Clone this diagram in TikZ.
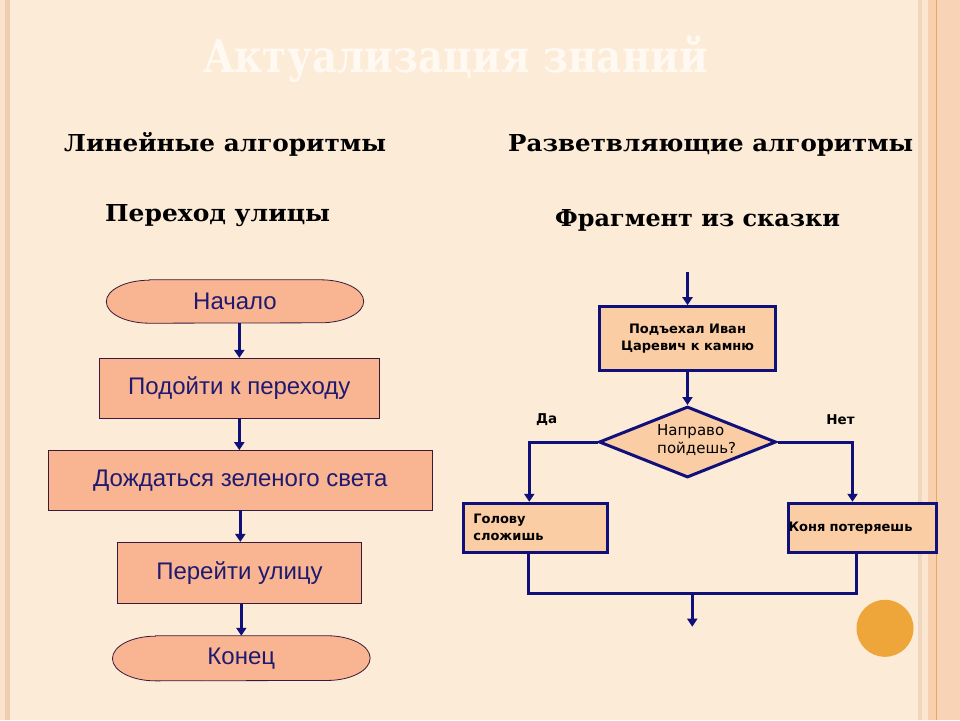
\documentclass[tikz,border=0pt]{standalone}
\usepackage{fontspec}
\setmainfont{Liberation Sans}
\newfontfamily\hfont{DejaVu Serif}
\newfontfamily\dvs{DejaVu Sans}
\usetikzlibrary{arrows.meta,shapes.geometric,backgrounds}
\definecolor{bgc}{HTML}{FCEBD7}
\definecolor{salmon}{HTML}{F9B591}
\definecolor{peach}{HTML}{FBCDA4}
\definecolor{navy}{HTML}{10107A}
\definecolor{ltext}{HTML}{1F1A70}
\definecolor{lborder}{HTML}{3A1A3A}
\definecolor{orangec}{HTML}{EEA53A}
\definecolor{titlec}{HTML}{FFF9F2}
\definecolor{stripeA}{HTML}{FAE2CB}
\definecolor{stripeB}{HTML}{F0CDB0}
\definecolor{stripeC}{HTML}{EED6BF}
\definecolor{stripeD}{HTML}{FCE6CF}
\definecolor{stripeE}{HTML}{F8D0B0}
\definecolor{stripeF}{HTML}{E9A765}
\definecolor{stripeG}{HTML}{F9D3B5}
\newcommand\headtxt[3]{\resizebox{#1}{\height}{\hfont\bfseries\fontsize{#2}{#2}\selectfont #3}}
\tikzset{
  lbox/.style={draw=lborder, line width=0.8pt, fill=salmon, text=ltext,
    font=\fontsize{24}{28}\selectfont, inner sep=0},
  tnode/.style={text=ltext, font=\fontsize{24}{28}\selectfont, inner sep=0},
  termline/.style={draw=lborder, line width=0.8pt, fill=salmon},
  rbox/.style={draw=navy, line width=3pt, fill=peach, text=black,
    font=\dvs\bfseries\fontsize{13}{17}\selectfont, inner sep=0, align=center},
  rdiam/.style={diamond, draw=navy, line width=3pt, fill=peach, inner sep=0},
  arr/.style={draw=navy, line width=3pt, -{Triangle[width=10pt,length=8pt]}},
  conn/.style={draw=navy, line width=3pt, line join=miter},
  head/.style={anchor=base west, inner sep=0, text=black},
  lab/.style={font=\dvs\bfseries\fontsize{13.5}{15}\selectfont, inner sep=0, text=black}
}
\begin{document}
\begin{tikzpicture}[x=1pt,y=1pt]
\useasboundingbox (0,0) rectangle (960,-720);
\begin{scope}[on background layer]
  \fill[bgc] (0,0) rectangle (960,-720);
  \fill[stripeA] (0,0) rectangle (5,-720);
  \fill[stripeB] (5,0) rectangle (10,-720);
  \fill[stripeC] (917.7,0) rectangle (921.7,-720);
  \fill[stripeD] (921.7,0) rectangle (928.3,-720);
  \fill[stripeE] (928.3,0) rectangle (935.7,-720);
  \fill[stripeF] (935.7,0) rectangle (937,-720);
  \fill[stripeG] (937,0) rectangle (960,-720);
\end{scope}

% title and headings
\node[head, text=titlec] (title) at (203,-72.5) {\headtxt{505pt}{45}{Актуализация знаний}};
\node[head] (h1) at (64,-151.7) {\headtxt{322pt}{23.3}{Линейные алгоритмы}};
\node[head] (h2) at (105,-221.7) {\headtxt{225pt}{23.3}{Переход улицы}};
\node[head] (h3) at (508,-151.7) {\headtxt{405pt}{23.3}{Разветвляющие алгоритмы}};
\node[head] (h4) at (555,-226) {\headtxt{285pt}{23.3}{Фрагмент из сказки}};

% left flowchart
\node[tnode, minimum width=257pt, minimum height=43pt] (n1) at (235,-301.5) {Начало};
\node[lbox, minimum width=280pt, minimum height=60pt] (p1) at (239.3,-388.3) {Подойти к переходу};
\node[lbox, minimum width=384pt, minimum height=59.5pt] (p2) at (240.3,-480.3) {Дождаться зеленого света};
\node[lbox, minimum width=244.4pt, minimum height=61pt] (p3) at (239.5,-572.8) {Перейти улицу};
\node[tnode, minimum width=257.3pt, minimum height=44.7pt] (n2) at (241.3,-658.3) {Конец};
\begin{scope}[on background layer]
  \draw[termline] ([xshift=43pt]n1.north west) -- ([xshift=-43pt]n1.north east)
    arc[start angle=90,end angle=-90,x radius=43pt,y radius=21.5pt]
    -- ([xshift=43pt]n1.south west)
    arc[start angle=270,end angle=90,x radius=43pt,y radius=21.5pt] -- cycle;
  \draw[termline] ([xshift=43pt]n2.north west) -- ([xshift=-43pt]n2.north east)
    arc[start angle=90,end angle=-90,x radius=43pt,y radius=22.35pt]
    -- ([xshift=43pt]n2.south west)
    arc[start angle=270,end angle=90,x radius=43pt,y radius=22.35pt] -- cycle;
\end{scope}
\draw[arr] (n1.south -| p1.north) -- (p1.north);
\draw[arr] (p1.south) -- (p1.south |- p2.north);
\draw[arr] (p2.south) -- (p2.south |- p3.north);
\draw[arr] (p3.south -| n2.north) -- (n2.north);

% right flowchart
\coordinate (tin) at (687.5,-271.7);
\node[rbox, minimum width=176.7pt, minimum height=64pt] (b1) at (687.5,-338.7) {Подъехал Иван\\Царевич к камню};
\node[rdiam, minimum width=177pt, minimum height=71pt] (d) at (687.5,-442) {};
\node[anchor=west, inner sep=0, align=left, text=black,
  font=\dvs\fontsize{15}{18}\selectfont] (dt) at (657,-440.5) {Направо\\пойдешь?};
\node[lab] (da) at (546.7,-420) {Да};
\node[lab] (net) at (840.5,-420) {Нет};
\node[rbox, minimum width=144pt, minimum height=49pt, text width=124pt, align=left] (g) at (535.3,-527.8) {Голову\\сложишь};
\node[rbox, minimum width=148.4pt, minimum height=49pt, text width=148pt, align=left] (k) at (862.5,-527.8) {Коня потеряешь};
\coordinate (m) at (692.3,-593.3);
\coordinate (out) at (692.3,-626.7);

\draw[arr] (tin) -- (b1.north);
\draw[arr] (b1.south) -- (d.north);
\draw[arr] (d.west) -| ([xshift=-6pt]g.north);
\draw[arr] (d.east) -| ([xshift=-10pt]k.north);
\draw[conn] ([xshift=-7pt]g.south) |- (m) -| ([xshift=-6.5pt]k.south);
\draw[arr] (m) -- (out);

% decoration
\node[circle, fill=orangec, minimum size=57pt, inner sep=0] (dot) at (885,-628.3) {};
\end{tikzpicture}
\end{document}
